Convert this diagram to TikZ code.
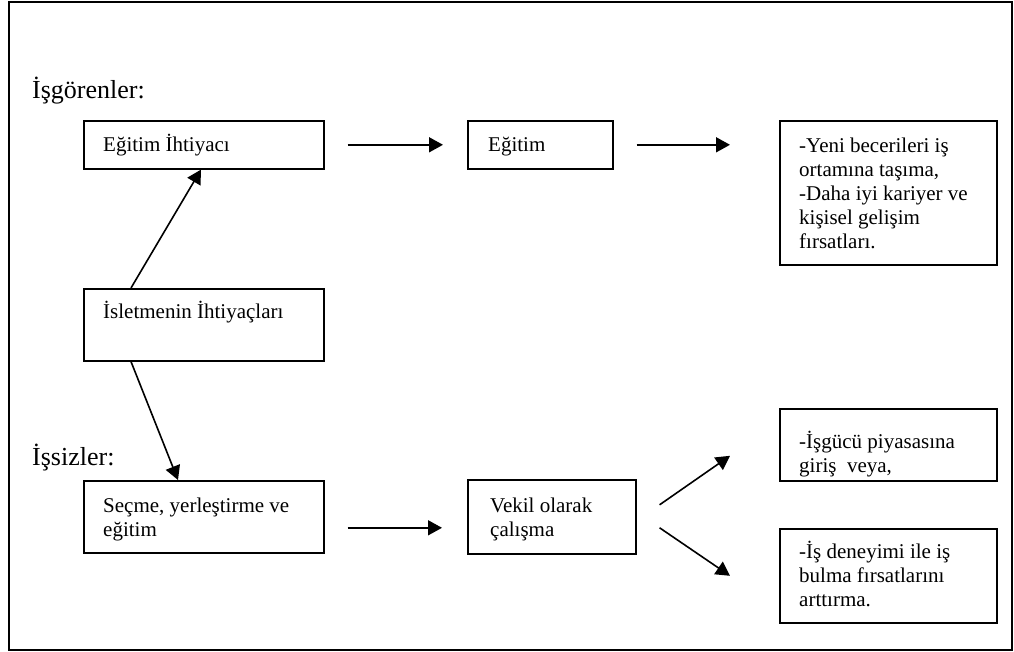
\documentclass[tikz,border=0pt]{standalone}
\usepackage{fontspec}
\setmainfont{Liberation Serif}
\usetikzlibrary{arrows.meta,calc}
\newcommand{\mylines}[1]{\begin{tabular}[t]{@{}l@{}}#1\end{tabular}}
\begin{document}
\begin{tikzpicture}[x=1pt,y=1pt,
 box/.style={draw,line width=1.6pt,rectangle,anchor=north west,inner sep=0pt},
 txt/.style={anchor=base west,inner sep=0pt,font=\fontsize{21}{24}\selectfont},
 head/.style={anchor=base west,inner sep=0pt,font=\fontsize{26}{30}\selectfont},
 arr/.style={line width=1.6pt,-{Triangle[length=14pt,width=15pt]}}]
\useasboundingbox (0,0) rectangle (1014,-652);
\draw[line width=1.5pt] (9,-2) rectangle (1012,-650);
% headings
\node[head] (h1) at (32,-99) {İşgörenler:};
\node[head] (h2) at (32,-465) {İşsizler:};
% boxes
\node[box,minimum width=240pt,minimum height=48pt] (b1) at (83,-120) {};
\node[box,minimum width=145pt,minimum height=48pt] (b2) at (467,-120) {};
\node[box,minimum width=217pt,minimum height=144pt] (b3) at (779,-120) {};
\node[box,minimum width=240pt,minimum height=72pt] (bi) at (83,-288) {};
\node[box,minimum width=240pt,minimum height=72pt] (b4) at (83,-480) {};
\node[box,minimum width=168pt,minimum height=74pt] (b5) at (467,-479) {};
\node[box,minimum width=217pt,minimum height=72pt] (b6) at (779,-408) {};
\node[box,minimum width=217pt,minimum height=94pt] (b7) at (779,-528) {};
% texts
\node[txt] (t1) at ($(b1.north west)+(20,-32)$) {Eğitim İhtiyacı};
\node[txt] (t2) at ($(b2.north west)+(21,-32)$) {Eğitim};
\node[txt] (t3) at ($(b3.north west)+(20,-33)$) {\mylines{-Yeni becerileri iş\\ortamına taşıma,\\-Daha iyi kariyer ve\\kişisel gelişim\\fırsatları.}};
\node[txt] (ti) at ($(bi.north west)+(20,-30)$) {İsletmenin İhtiyaçları};
\node[txt] (t4) at ($(b4.north west)+(20,-32)$) {\mylines{Seçme, yerleştirme ve\\eğitim}};
\node[txt] (t5) at ($(b5.north west)+(23,-33)$) {\mylines{Vekil olarak\\çalışma}};
\node[txt] (t6) at ($(b6.north west)+(20,-40)$) {\mylines{-İşgücü piyasasına\\giriş\ \ veya,}};
\node[txt] (t7) at ($(b7.north west)+(20,-30)$) {\mylines{-İş deneyimi ile iş\\bulma fırsatlarını\\arttırma.}};
% connectors
\draw[arr,shorten <=23pt,shorten >=24pt] (b1.east) -- (b2.west);
\draw[arr,shorten <=23pt,shorten >=49pt] (b2.east) -- (b2.east -| b3.west);
\draw[arr] ($(bi.north west)+(48,0)$) -- ($(b1.south west)+(118,0)$);
\draw[arr] ($(bi.south west)+(48,0)$) -- ($(b4.north west)+(95,0)$);
\draw[arr,shorten <=23pt,shorten >=25pt] ($(b4.east)+(0,-11)$) -- ($(b5.west)+(0,-11)$);
\draw[arr] ($(b5.east)+(23,12)$) -- ($(b6.west)+(-49,-11)$);
\draw[arr] ($(b5.east)+(23,-11)$) -- ($(b7.west)+(-49,0)$);
\end{tikzpicture}
\end{document}
